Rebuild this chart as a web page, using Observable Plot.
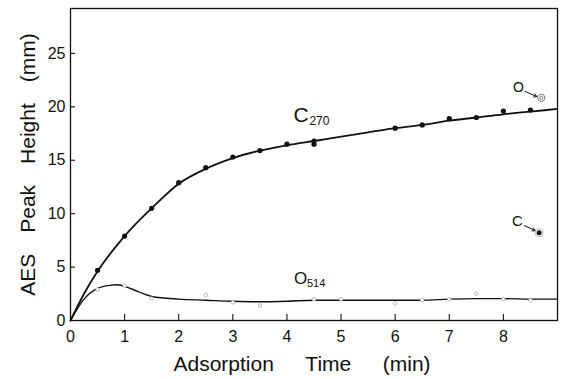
<!DOCTYPE html>
<html>
<head>
<meta charset="utf-8">
<script src="https://cdn.jsdelivr.net/npm/d3@7"></script>
<script src="https://cdn.jsdelivr.net/npm/@observablehq/plot@0.6"></script>
<style>
  body { margin: 0; background: #fff; }
  #chart svg { display: block; }
</style>
</head>
<body>
<div id="chart"></div>
<script>
// Axis ticks
const timeTicks = [0, 1, 2, 3, 4, 5, 6, 7, 8];
const heightTicks = [0, 5, 10, 15, 20, 25];

// C 270 eV peak: measured points (filled circles)
const c270Time   = [0.5, 1.0, 1.5, 2.0, 2.5, 3.0, 3.5, 4.0, 4.5, 4.5, 6.0, 6.5, 7.0, 7.5, 8.0, 8.5];
const c270Height = [4.7, 7.9, 10.5, 12.9, 14.3, 15.3, 15.9, 16.5, 16.5, 16.8, 18.0, 18.3, 18.9, 19.0, 19.6, 19.7];

// C 270 eV peak: smooth drawn curve
const c270CurveTime   = [0, 0.25, 0.5, 1.0, 1.5, 2.0, 2.5, 3.0, 3.5, 4.0, 4.5, 5.0, 5.5, 6.0, 6.5, 7.0, 7.5, 8.0, 8.5, 9.0];
const c270CurveHeight = [0, 2.5, 4.6, 7.9, 10.5, 12.8, 14.2, 15.2, 15.9, 16.4, 16.8, 17.2, 17.6, 18.0, 18.3, 18.7, 19.0, 19.3, 19.55, 19.8];

// O 514 eV peak: measured points (open circles)
const o514Time   = [0.5, 1.0, 1.5, 2.5, 3.0, 3.5, 4.5, 5.0, 6.0, 6.5, 7.0, 7.5, 8.0, 8.5];
const o514Height = [2.9, 3.25, 2.05, 2.4, 1.7, 1.4, 2.0, 2.0, 1.6, 1.9, 2.0, 2.5, 2.0, 1.9];

// O 514 eV peak: smooth drawn curve
const o514CurveTime   = [0, 0.25, 0.5, 0.75, 0.85, 1.0, 1.25, 1.5, 2.0, 2.5, 3.0, 3.5, 4.0, 4.5, 5.0, 5.5, 6.0, 6.5, 7.0, 7.5, 8.0, 8.5, 9.0];
const o514CurveHeight = [0, 2.0, 3.0, 3.3, 3.35, 3.2, 2.7, 2.25, 2.0, 1.9, 1.8, 1.75, 1.8, 1.9, 1.9, 1.9, 1.9, 1.9, 2.0, 2.05, 2.05, 2.0, 2.0];

const zip = (xs, ys) => xs.map((x, i) => ({x, y: ys[i]}));
const c270Points = zip(c270Time, c270Height);
const c270Curve  = zip(c270CurveTime, c270CurveHeight);
const o514Points = zip(o514Time, o514Height);
const o514Curve  = zip(o514CurveTime, o514CurveHeight);

const ink = "#111";
const font = "'Liberation Sans', Arial, sans-serif";

const chart = Plot.plot({
  width: 561,
  height: 379,
  marginLeft: 70,
  marginRight: 4,
  marginTop: 8,
  marginBottom: 59,
  style: {fontFamily: font, background: "#fff", color: ink},
  x: {domain: [0, 9], axis: null},
  y: {domain: [0, 29.2], axis: null},
  marks: [
    Plot.frame({stroke: ink, strokeWidth: 1.3}),
    // inward tick marks
    Plot.ruleX(timeTicks.filter(d => d > 0), {x: d => d, y1: 0, y2: 0, insetBottom: 6, stroke: ink, strokeWidth: 1.1}),
    Plot.ruleY(heightTicks.filter(d => d > 0), {y: d => d, x1: 0, x2: 0, insetRight: -5, stroke: ink, strokeWidth: 1.1}),
    Plot.axisX({ticks: timeTicks, tickSize: 0, tickPadding: 10, fontSize: 16, label: null}),
    Plot.axisY({ticks: heightTicks, tickSize: 0, tickPadding: 5, fontSize: 16, label: null}),
    // curves
    Plot.line(c270Curve, {x: "x", y: "y", curve: "monotone-x", stroke: ink, strokeWidth: 1.8}),
    Plot.line(o514Curve, {x: "x", y: "y", curve: "monotone-x", stroke: ink, strokeWidth: 1.4}),
    Plot.dot(c270Points, {x: "x", y: "y", r: 2.6, fill: ink}),
    Plot.dot(o514Points, {x: "x", y: "y", r: 1.8, fill: "#fff", stroke: "#aaa", strokeWidth: 0.8}),
    // series labels
    Plot.text(["C"], {x: 4.12, y: 19.2, textAnchor: "start", fontSize: 21}),
    Plot.text(["270"], {x: 4.12, y: 19.2, dx: 16, dy: 6, textAnchor: "start", fontSize: 12}),
    Plot.text(["O"], {x: 4.13, y: 3.9, textAnchor: "start", fontSize: 17}),
    Plot.text(["514"], {x: 4.13, y: 3.9, dx: 13, dy: 5, textAnchor: "start", fontSize: 11}),
    // symbol key
    Plot.text(["O"], {x: 8.28, y: 21.8, fontSize: 14}),
    Plot.arrow([0], {x1: 8.40, y1: 21.45, x2: 8.62, y2: 20.95, stroke: ink, strokeWidth: 1, headLength: 5}),
    Plot.dot([0], {x: 8.70, y: 20.84, r: 3.6, fill: "#fff", stroke: "#666", strokeWidth: 0.9}),
    Plot.dot([0], {x: 8.70, y: 20.84, r: 1.6, fill: "#fff", stroke: "#666", strokeWidth: 0.8}),
    Plot.text(["C"], {x: 8.26, y: 9.25, fontSize: 15}),
    Plot.arrow([0], {x1: 8.39, y1: 8.88, x2: 8.59, y2: 8.41, stroke: ink, strokeWidth: 1, headLength: 5}),
    Plot.dot([0], {x: 8.66, y: 8.22, r: 4, fill: "#fff", stroke: "#aaa", strokeWidth: 0.8}),
    Plot.dot([0], {x: 8.66, y: 8.22, r: 2.5, fill: ink}),
    // axis titles
    Plot.text(["AES\u2003Peak\u2003Height\u2003(mm)"], {frameAnchor: "left", textAnchor: "middle", lineAnchor: "middle", rotate: -90, dx: -42, dy: 0, fontSize: 21}),
    Plot.text(["Adsorption\u2003\u2002Time\u2003\u2002(min)"], {frameAnchor: "bottom", textAnchor: "middle", lineAnchor: "middle", dx: -12, dy: 44, fontSize: 21})
  ]
});

document.getElementById("chart").appendChild(chart);
</script>
</body>
</html>
